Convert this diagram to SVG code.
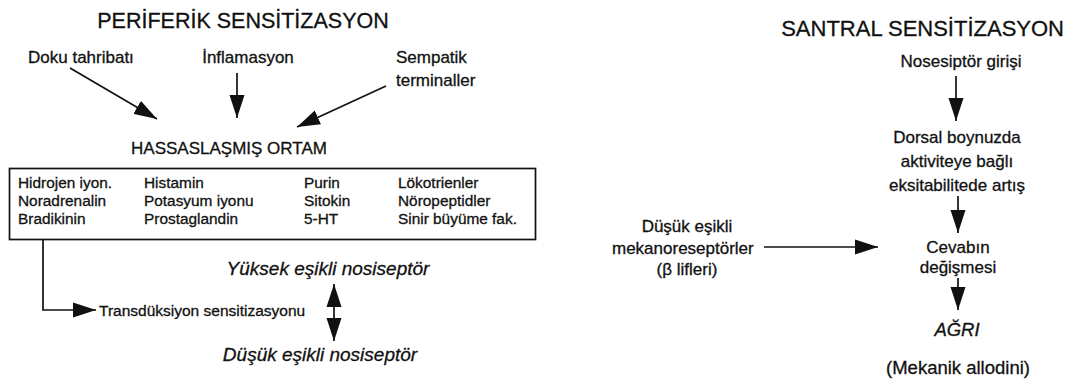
<svg xmlns="http://www.w3.org/2000/svg" width="1073" height="392" viewBox="0 0 1073 392">
<style>
text{font-family:"Liberation Sans",Arial,Helvetica,sans-serif;fill:#111;stroke:#111;stroke-width:0.3}
.title{font-size:21.5px}
.lbl{font-size:17px}
.box{font-size:15.4px}
.sm{font-size:15.5px}
.it{font-size:19px;font-style:italic}
.m{text-anchor:middle}
.ln{stroke:#111;stroke-width:1.7;fill:none}
</style>
<defs>
<marker id="ah" markerUnits="userSpaceOnUse" markerWidth="24" markerHeight="16" refX="23" refY="8" orient="auto-start-reverse">
<path d="M0,0.5 L23,8 L0,15.5 z" fill="#111"/>
</marker>
</defs>
<rect width="1073" height="392" fill="#fff"/>

<g id="title-periferik"><text class="title" x="243" y="28" text-anchor="middle">PERİFERİK SENSİTİZASYON</text></g>
<g id="doku"><text class="lbl" x="28" y="63">Doku tahribatı</text></g>
<g id="inflamasyon"><text class="lbl m" x="248" y="63">İnflamasyon</text></g>
<g id="sempatik"><text class="lbl" x="396" y="63">Sempatik</text><text class="lbl" x="396" y="86">terminaller</text></g>
<g id="hassas"><text class="lbl m" x="229" y="154">HASSASLAŞMIŞ ORTAM</text></g>
<g id="ortam-box">
<rect x="9.5" y="168.5" width="526" height="71" fill="none" stroke="#111" stroke-width="1.7"/>
<text class="box" x="18" y="188">Hidrojen iyon.</text>
<text class="box" x="18" y="206">Noradrenalin</text>
<text class="box" x="18" y="224">Bradikinin</text>
<text class="box" x="144" y="188">Histamin</text>
<text class="box" x="144" y="206">Potasyum iyonu</text>
<text class="box" x="144" y="224">Prostaglandin</text>
<text class="box" x="304" y="188">Purin</text>
<text class="box" x="304" y="206">Sitokin</text>
<text class="box" x="304" y="224">5-HT</text>
<text class="box" x="398" y="188">Lökotrienler</text>
<text class="box" x="398" y="206">Nöropeptidler</text>
<text class="box" x="398" y="224">Sinir büyüme fak.</text>
</g>
<g id="transduksiyon"><text class="sm" x="99" y="316">Transdüksiyon sensitizasyonu</text></g>
<g id="yuksek"><text class="it m" x="328" y="275">Yüksek eşikli nosiseptör</text></g>
<g id="dusuk-nos"><text class="it m" x="320" y="361">Düşük eşikli nosiseptör</text></g>

<g id="title-santral"><text class="title" x="1064" y="36" text-anchor="end" style="font-size:22px">SANTRAL SENSİTİZASYON</text></g>
<g id="nosesiptor"><text class="lbl m" x="961" y="67">Nosesiptör girişi</text></g>
<g id="dorsal"><text class="lbl m" x="957" y="143">Dorsal boynuzda</text><text class="lbl m" x="957" y="167">aktiviteye bağlı</text><text class="lbl m" x="957" y="191">eksitabilitede artış</text></g>
<g id="mekano"><text class="lbl m" x="687" y="232">Düşük eşikli</text><text class="lbl" x="612" y="254">mekanoreseptörler</text><text class="lbl m" x="687" y="275">(β lifleri)</text></g>
<g id="cevap"><text class="lbl m" x="958" y="253">Cevabın</text><text class="lbl m" x="958" y="273">değişmesi</text></g>
<g id="agri"><text class="it m" x="957" y="336" style="font-size:18.5px">AĞRI</text></g>
<g id="mekanik"><text class="lbl m" x="958" y="374" style="font-size:18.5px">(Mekanik allodini)</text></g>

<g id="connectors" class="ln" marker-end="url(#ah)">
<line x1="70" y1="68" x2="157" y2="119"/>
<line x1="237" y1="73" x2="237" y2="118"/>
<line x1="386" y1="86" x2="297" y2="127"/>
<polyline points="43,240 43,310 96,310"/>
<line x1="334" y1="284" x2="334" y2="341" marker-start="url(#ah)"/>
<line x1="956" y1="76" x2="956" y2="121"/>
<line x1="958" y1="196" x2="958" y2="233"/>
<line x1="764" y1="247" x2="878" y2="247"/>
<line x1="958" y1="278" x2="958" y2="310"/>
</g>
</svg>
